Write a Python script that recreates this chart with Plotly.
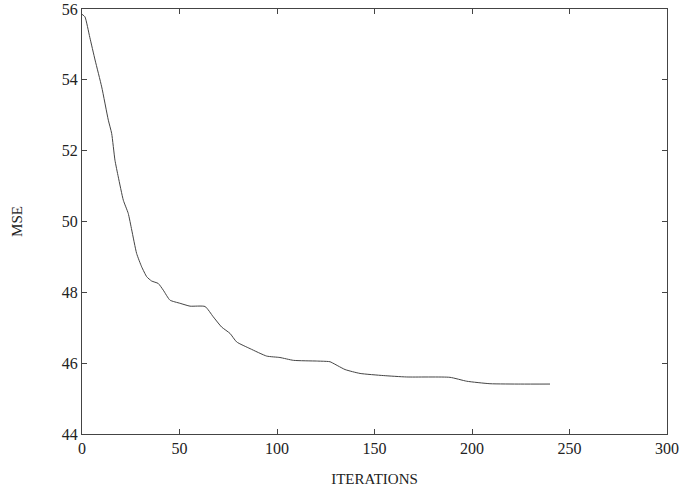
import plotly.graph_objects as go

iterations = [0, 1.5, 4, 6.7, 10.1, 13.5, 15.2, 16.9, 18.6, 21.2, 23.7, 25.5, 28, 30.6, 33.2,
              35.7, 39.1, 41.7, 45.1, 50.3, 55.4, 63.1, 67.3, 71.6, 75.9, 79.3, 86.2,
              94.7, 101.5, 108.4, 120.4, 125.5, 127.2, 134.9, 142.6, 154.5, 166.5, 188.7,
              197.3, 209.2, 225, 240]
mse = [55.85, 55.78, 55.2, 54.56, 53.8, 52.86, 52.49, 51.73, 51.26, 50.6, 50.23, 49.76, 49.1,
       48.72, 48.44, 48.32, 48.25, 48.06, 47.78, 47.69, 47.61, 47.6, 47.31, 47.02, 46.84,
       46.6, 46.41, 46.2, 46.16, 46.08, 46.06, 46.05, 46.04, 45.82, 45.71, 45.65, 45.61,
       45.6, 45.49, 45.42, 45.41, 45.41]

x_ticks = [0, 50, 100, 150, 200, 250, 300]
y_ticks = [44, 46, 48, 50, 52, 54, 56]

fig = go.Figure()
fig.add_trace(go.Scatter(x=iterations, y=mse, mode="lines",
                         line=dict(color="#444444", width=1, shape="spline", smoothing=0.5),
                         showlegend=False))

font = dict(family="Liberation Serif, Times New Roman, serif", size=16, color="#222222")
axis_common = dict(showgrid=False, zeroline=False, showline=True, linecolor="#444444",
                   linewidth=1, mirror="ticks", ticks="inside", ticklen=5, tickcolor="#444444",
                   tickfont=font, automargin=False)

fig.update_layout(
    width=693, height=492,
    margin=dict(l=82, r=26, t=9, b=58),
    paper_bgcolor="white", plot_bgcolor="white",
    font=font,
    xaxis=dict(range=[0, 300], tickvals=x_ticks, ticktext=[str(v) for v in x_ticks],
               title=dict(text="ITERATIONS", font=dict(size=15), standoff=17), **axis_common),
    yaxis=dict(range=[44, 56], tickvals=y_ticks, ticktext=[str(v) for v in y_ticks],
               title=dict(text="MSE", font=dict(size=15), standoff=35), **axis_common),
)

fig.write_html("out.html", config={"displayModeBar": False},
               post_script="document.body.style.margin='0';")
